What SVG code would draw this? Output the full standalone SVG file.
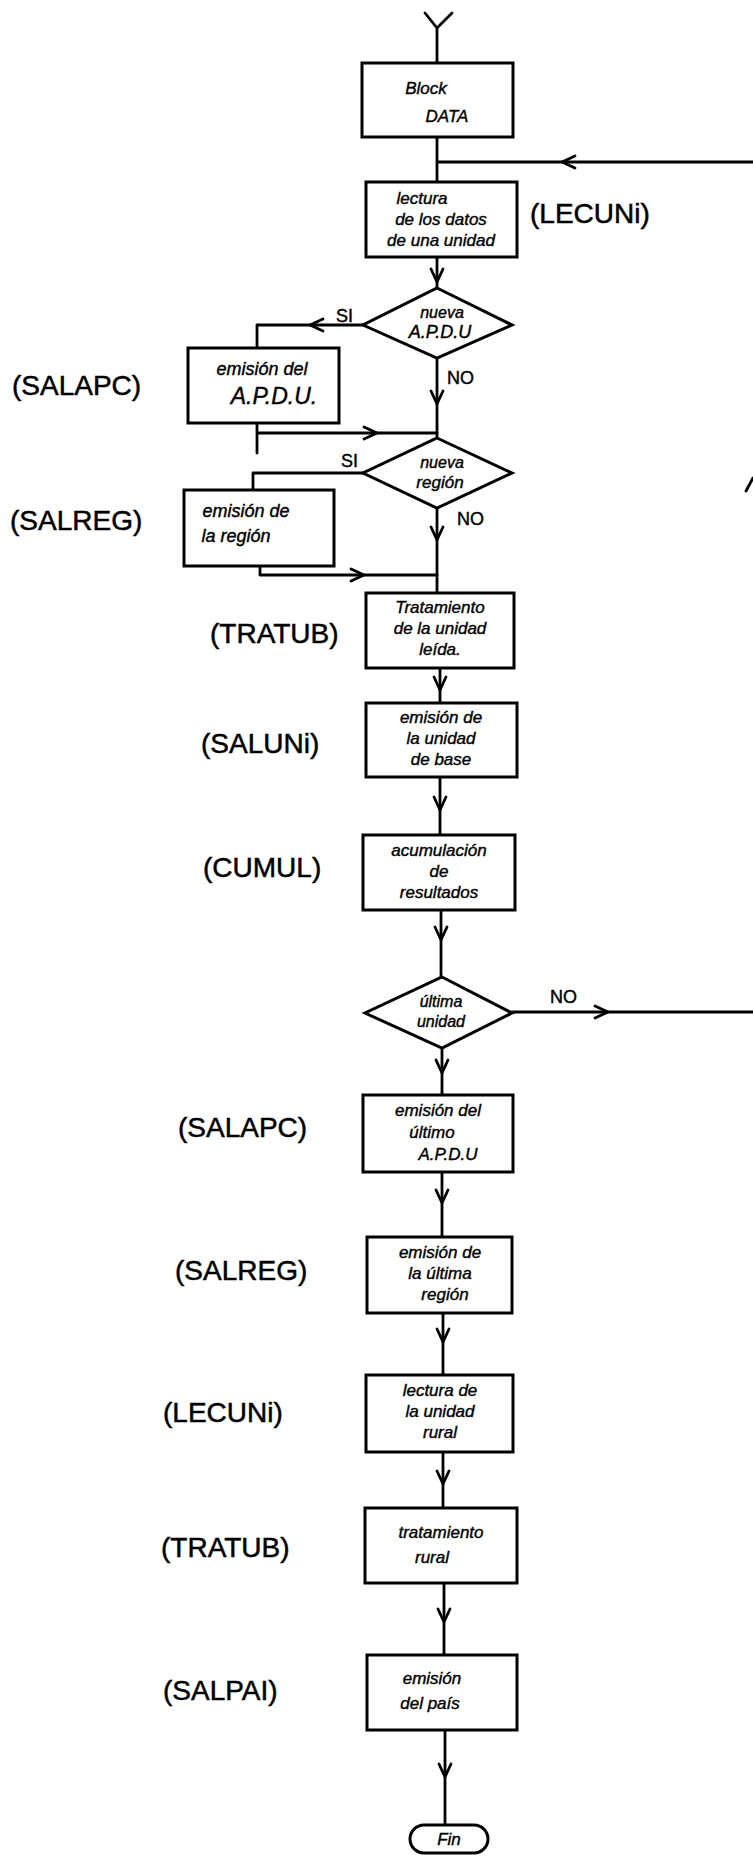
<svg xmlns="http://www.w3.org/2000/svg" width="753" height="1860" viewBox="0 0 753 1860">
<style>
.s{fill:none;stroke:#000;stroke-width:2.8;stroke-linejoin:round;stroke-linecap:round}
.b{fill:#fff;stroke:#000;stroke-width:3}
.t{font-family:"Liberation Sans",Arial,sans-serif;font-size:17px;font-style:italic;fill:#000;text-anchor:middle;stroke:#000;stroke-width:0.4}
.l{font-family:"Liberation Sans",Arial,sans-serif;font-size:28px;fill:#000;stroke:#000;stroke-width:0.5}
.e{font-family:"Liberation Sans",Arial,sans-serif;font-size:18px;fill:#000;stroke:#000;stroke-width:0.4}
</style>
<defs>
<path id="ad" class="s" d="M-6,-13 L0,0 L6,-13"/>
<path id="ar" class="s" d="M-13,-6 L0,0 L-13,6"/>
<path id="al" class="s" d="M13,-6 L0,0 L13,6"/>
</defs>
<rect width="753" height="1860" fill="#fff"/>
<g id="connectors">
<path class="s" d="M425,13 L437,28 L452,13 M437,28 L437,63"/>
<path class="s" d="M437,137 L437,182 M437,162 L753,162"/>
<use href="#al" x="562" y="162"/>
<path class="s" d="M437,257 L437,288"/>
<use href="#ad" x="437" y="282"/>
<path class="s" d="M363,325 L257,325 L257,348"/>
<use href="#al" x="310" y="325"/>
<path class="s" d="M257,423 L257,453 M257,433 L437,433"/>
<use href="#ar" x="377" y="433"/>
<path class="s" d="M437,358 L437,438"/>
<use href="#ad" x="437" y="404"/>
<path class="s" d="M363,473 L253,473 L253,490"/>
<path class="s" d="M260,566 L260,575 L437,575"/>
<use href="#ar" x="364" y="575"/>
<path class="s" d="M437,508 L437,593"/>
<use href="#ad" x="437" y="540"/>
<path class="s" d="M440,668 L440,703"/>
<use href="#ad" x="440" y="690"/>
<path class="s" d="M440,777 L440,835"/>
<use href="#ad" x="440" y="810"/>
<path class="s" d="M441,910 L441,977"/>
<use href="#ad" x="441" y="940"/>
<path class="s" d="M512,1012 L753,1012"/>
<use href="#ar" x="608" y="1012"/>
<path class="s" d="M442,1048 L442,1095"/>
<use href="#ad" x="442" y="1073"/>
<path class="s" d="M442,1172 L442,1237"/>
<use href="#ad" x="442" y="1203"/>
<path class="s" d="M443,1313 L443,1375"/>
<use href="#ad" x="443" y="1342"/>
<path class="s" d="M443,1452 L443,1508"/>
<use href="#ad" x="443" y="1484"/>
<path class="s" d="M444,1583 L444,1655"/>
<use href="#ad" x="444" y="1622"/>
<path class="s" d="M445,1730 L445,1825"/>
<use href="#ad" x="445" y="1777"/>
<path class="s" d="M746,491 L753,478"/>
<text class="e" x="336" y="322">SI</text>
<text class="e" x="447" y="384">NO</text>
<text class="e" x="341" y="467">SI</text>
<text class="e" x="457" y="525">NO</text>
<text class="e" x="550" y="1003" font-size="20">NO</text>
</g>
<g id="n1"><rect class="b" x="362" y="63" width="151" height="74"/><text class="t" x="437" y="94" font-size="20"><tspan x="426">Block</tspan><tspan x="447" dy="28">DATA</tspan></text></g>
<g id="n2"><rect class="b" x="366" y="182" width="151" height="75"/><text class="t" x="441" y="204"><tspan x="422">lectura</tspan><tspan x="441" dy="21">de los datos</tspan><tspan x="441" dy="21">de una unidad</tspan></text><text class="l" x="530" y="223">(LECUNi)</text></g>
<g id="d1"><path class="b" d="M437,288 L512,325 L437,358 L363,325 Z"/><text class="t" x="440" y="318"><tspan x="442" font-size="16">nueva</tspan><tspan x="440" dy="20" font-size="18">A.P.D.U</tspan></text></g>
<g id="n3"><rect class="b" x="188" y="348" width="151" height="75"/><text class="t" x="264" y="375"><tspan x="262" font-size="18">emisión del</tspan><tspan x="274" dy="29" font-size="23">A.P.D.U.</tspan></text><text class="l" x="12" y="395">(SALAPC)</text></g>
<g id="d2"><path class="b" d="M437,438 L512,473 L437,508 L363,473 Z"/><text class="t" x="440" y="468"><tspan x="442" font-size="16">nueva</tspan><tspan x="440" dy="20">región</tspan></text></g>
<g id="n4"><rect class="b" x="184" y="490" width="150" height="76"/><text class="t" x="250" y="517"><tspan x="246" font-size="18">emisión de</tspan><tspan x="236" dy="25" font-size="18">la región</tspan></text><text class="l" x="10" y="530">(SALREG)</text></g>
<g id="n5"><rect class="b" x="366" y="593" width="148" height="75"/><text class="t" x="440" y="613"><tspan x="440">Tratamiento</tspan><tspan x="440" dy="21">de la unidad</tspan><tspan x="440" dy="21">leída.</tspan></text><text class="l" x="210" y="643">(TRATUB)</text></g>
<g id="n6"><rect class="b" x="366" y="703" width="151" height="74"/><text class="t" x="441" y="723"><tspan x="441">emisión de</tspan><tspan x="441" dy="21">la unidad</tspan><tspan x="441" dy="21">de base</tspan></text><text class="l" x="201" y="753">(SALUNi)</text></g>
<g id="n7"><rect class="b" x="363" y="835" width="152" height="75"/><text class="t" x="439" y="856"><tspan x="439">acumulación</tspan><tspan x="439" dy="21">de</tspan><tspan x="439" dy="21">resultados</tspan></text><text class="l" x="203" y="877">(CUMUL)</text></g>
<g id="d3"><path class="b" d="M442,977 L512,1013 L442,1048 L365,1013 Z"/><text class="t" x="441" y="1007"><tspan x="441" font-size="16">última</tspan><tspan x="441" dy="20" font-size="16">unidad</tspan></text></g>
<g id="n8"><rect class="b" x="363" y="1095" width="150" height="77"/><text class="t" x="438" y="1116"><tspan x="438">emisión del</tspan><tspan x="432" dy="22">último</tspan><tspan x="448" dy="22">A.P.D.U</tspan></text><text class="l" x="178" y="1137">(SALAPC)</text></g>
<g id="n9"><rect class="b" x="367" y="1237" width="145" height="76"/><text class="t" x="440" y="1258"><tspan x="440">emisión de</tspan><tspan x="440" dy="21">la última</tspan><tspan x="445" dy="21">región</tspan></text><text class="l" x="175" y="1280">(SALREG)</text></g>
<g id="n10"><rect class="b" x="366" y="1375" width="147" height="77"/><text class="t" x="440" y="1396"><tspan x="440">lectura de</tspan><tspan x="440" dy="21">la unidad</tspan><tspan x="440" dy="21">rural</tspan></text><text class="l" x="163" y="1422">(LECUNi)</text></g>
<g id="n11"><rect class="b" x="365" y="1508" width="152" height="75"/><text class="t" x="441" y="1538" font-size="18"><tspan x="441">tratamiento</tspan><tspan x="432" dy="25">rural</tspan></text><text class="l" x="161" y="1557">(TRATUB)</text></g>
<g id="n12"><rect class="b" x="367" y="1655" width="150" height="75"/><text class="t" x="440" y="1684" font-size="19"><tspan x="432">emisión</tspan><tspan x="430" dy="25">del país</tspan></text><text class="l" x="163" y="1700">(SALPAI)</text></g>
<g id="fin"><rect class="b" x="410" y="1825" width="78" height="28" rx="14"/><text class="t" x="449" y="1845" font-size="17">Fin</text></g>
</svg>
